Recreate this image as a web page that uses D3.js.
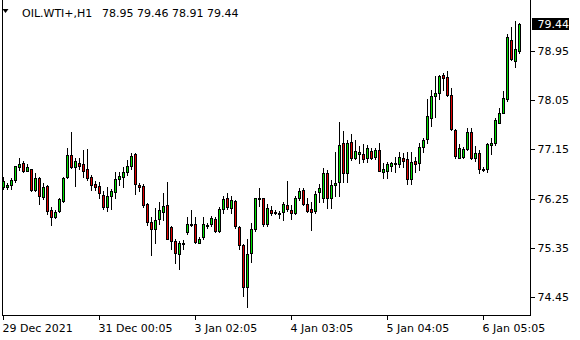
<!DOCTYPE html>
<html>
<head>
<meta charset="utf-8">
<script src="https://cdn.jsdelivr.net/npm/d3@7"></script>
<style>
  body { margin: 0; background: #fff; }
  svg { display: block; font-family: "DejaVu Sans", sans-serif; font-size: 11px; }
</style>
</head>
<body>
<div id="chart"></div>
<script>
// OIL.WTI+ H1 bars, 29 Dec 2021 .. 6 Jan 2022
const opens = [
  76.46, 76.46, 76.50, 76.59, 76.82, 76.90, 76.76, 76.79, 76.41, 76.63,
  76.28, 76.48, 76.05, 75.92, 76.03, 76.21, 76.64, 77.05, 76.83, 76.91,
  76.88, 76.79, 76.64, 76.52, 76.48, 76.32, 76.10, 76.30, 76.37, 76.61,
  76.64, 76.74, 76.85, 77.06, 76.50, 76.48, 76.15, 75.82, 75.69, 75.87,
  76.01, 76.13, 75.73, 75.48, 75.23, 75.44, 75.63, 75.78, 75.79, 75.44,
  75.54, 75.76, 75.78, 75.87, 75.65, 76.06, 76.26, 76.07, 76.21, 75.73,
  75.40, 74.63, 75.25, 75.69, 76.27, 76.26, 75.78, 76.05, 76.01, 75.98,
  76.01, 76.13, 76.05, 75.99, 76.27, 76.41, 76.16, 76.06, 76.02, 76.37,
  76.26, 76.72, 76.26, 76.50, 76.55, 77.27, 76.71, 77.29, 77.00, 77.07,
  77.06, 77.00, 77.12, 77.02, 77.14, 76.74, 76.76, 76.85, 76.90, 76.89,
  76.99, 76.97, 76.60, 76.94, 76.90, 77.19, 77.34, 77.72, 78.13, 78.18,
  78.51, 78.48, 78.14, 77.51, 77.00, 77.02, 77.15, 77.46, 76.99, 77.08,
  76.79, 76.79, 77.23, 77.26, 77.64, 77.82, 78.07, 79.16, 78.77, 78.95
];
const highs = [
  76.64, 76.54, 76.62, 76.85, 76.99, 76.94, 76.88, 76.80, 76.71, 76.65,
  76.53, 76.50, 76.10, 76.04, 76.26, 76.65, 77.18, 77.46, 76.99, 77.00,
  77.14, 77.15, 76.68, 76.57, 76.55, 76.39, 76.46, 76.43, 76.73, 76.73,
  76.83, 76.96, 77.09, 77.08, 76.54, 76.52, 76.17, 75.91, 76.08, 76.18,
  76.36, 76.55, 75.75, 75.52, 75.48, 75.49, 75.92, 76.05, 75.92, 75.55,
  75.92, 75.80, 75.93, 75.92, 76.09, 76.30, 76.36, 76.30, 76.23, 75.75,
  75.42, 75.52, 75.80, 76.27, 76.44, 76.27, 76.15, 76.12, 76.04, 76.02,
  76.19, 76.57, 76.13, 76.29, 76.44, 76.45, 76.27, 76.19, 76.39, 76.52,
  76.81, 76.77, 76.59, 77.10, 77.66, 77.49, 77.32, 77.43, 77.32, 77.21,
  77.24, 77.23, 77.17, 77.17, 77.26, 76.90, 76.92, 76.92, 77.02, 77.10,
  77.08, 77.11, 77.10, 77.02, 77.26, 77.36, 78.07, 78.24, 78.49, 78.51,
  78.55, 78.58, 78.28, 77.52, 77.24, 77.20, 77.55, 77.54, 77.22, 77.13,
  76.83, 77.26, 77.35, 77.72, 77.90, 78.21, 79.26, 79.39, 79.50, 79.46
];
const lows = [
  76.42, 76.42, 76.43, 76.55, 76.77, 76.74, 76.75, 76.39, 76.39, 76.16,
  76.24, 75.96, 75.77, 75.89, 76.00, 76.19, 76.62, 76.81, 76.48, 76.80,
  76.65, 76.59, 76.41, 76.41, 76.27, 76.06, 76.02, 76.06, 76.27, 76.50,
  76.47, 76.68, 76.80, 76.33, 76.39, 76.10, 75.77, 75.21, 75.43, 75.79,
  75.86, 75.51, 75.33, 75.07, 74.96, 75.33, 75.60, 75.75, 75.44, 75.43,
  75.52, 75.71, 75.74, 75.63, 75.63, 75.98, 76.06, 75.98, 75.72, 75.32,
  74.46, 74.27, 75.09, 75.66, 76.12, 75.74, 75.75, 75.95, 75.96, 75.89,
  75.86, 76.02, 75.88, 75.97, 76.23, 76.13, 76.01, 75.68, 75.98, 76.19,
  76.18, 76.07, 76.07, 76.29, 76.30, 76.56, 76.56, 76.96, 76.97, 76.90,
  76.92, 76.92, 76.97, 76.97, 76.75, 76.63, 76.62, 76.75, 76.74, 76.83,
  76.83, 76.52, 76.52, 76.74, 76.77, 77.11, 77.27, 77.57, 77.75, 78.07,
  78.24, 78.13, 77.51, 77.00, 77.00, 77.00, 77.14, 76.97, 76.93, 76.72,
  76.75, 76.73, 77.07, 77.23, 77.63, 77.81, 78.04, 78.79, 78.66, 78.91
];
const closes = [
  76.57, 76.50, 76.59, 76.84, 76.88, 76.76, 76.83, 76.41, 76.63, 76.30,
  76.47, 76.03, 75.92, 76.00, 76.24, 76.63, 77.05, 76.83, 76.94, 76.85,
  76.76, 76.62, 76.50, 76.47, 76.35, 76.09, 76.30, 76.38, 76.61, 76.66,
  76.74, 76.85, 77.03, 76.51, 76.46, 76.13, 75.82, 75.69, 75.86, 76.04,
  76.12, 75.52, 75.48, 75.25, 75.44, 75.44, 75.79, 75.76, 75.46, 75.52,
  75.79, 75.75, 75.89, 75.65, 76.06, 76.24, 76.09, 76.23, 75.74, 75.40,
  74.64, 75.23, 75.69, 76.26, 76.24, 75.78, 76.07, 75.98, 75.99, 75.97,
  76.16, 76.06, 75.98, 76.26, 76.39, 76.15, 76.03, 76.01, 76.33, 76.44,
  76.72, 76.26, 76.50, 76.53, 77.23, 76.71, 77.27, 77.00, 77.12, 77.10,
  76.97, 77.17, 77.00, 77.14, 76.76, 76.79, 76.88, 76.91, 76.91, 77.02,
  76.93, 76.60, 76.92, 76.88, 77.20, 77.32, 77.76, 78.13, 78.19, 78.49,
  78.46, 78.14, 77.52, 77.03, 77.17, 77.16, 77.46, 77.00, 77.08, 76.79,
  76.80, 77.24, 77.26, 77.69, 77.81, 78.09, 79.20, 78.80, 78.98, 79.44
];

const priceTicks = [78.95, 78.05, 77.15, 76.25, 75.35, 74.45];
const timeTickBars = [0, 24, 48, 72, 96, 120];
const timeLabels = ["29 Dec 2021", "31 Dec 00:05", "3 Jan 02:05", "4 Jan 03:05", "5 Jan 04:05", "6 Jan 05:05"];
const symbol = "OIL.WTI+,H1";
const lastPrice = 79.44;

const width = 580, height = 340;
const plotLeft = 2.5, plotRight = 530.5, plotBottom = 315.5;
const upColor = "#00e000", downColor = "#e00000";

const bars = opens.map((o, i) => ({ i, o, h: highs[i], l: lows[i], c: closes[i] }));

const svg = d3.select("#chart").append("svg")
    .attr("width", width)
    .attr("height", height);

svg.append("rect").attr("width", width).attr("height", height).attr("fill", "#fff");

const x = d3.scaleLinear()
    .domain([0, bars.length - 1])
    .range([3.5, 3.5 + 4 * (bars.length - 1)]);

const y = d3.scaleLinear()
    .domain([74.45, 78.95])
    .range([297, 51]);

const py = v => Math.round(y(v)) + 0.5;

// candles
const candle = svg.append("g").selectAll("g")
  .data(bars)
  .join("g");

candle.append("line")
    .attr("x1", d => x(d.i))
    .attr("x2", d => x(d.i))
    .attr("y1", d => Math.round(y(d.h)))
    .attr("y2", d => Math.round(y(d.l)) + 1)
    .attr("stroke", "#000")
    .attr("stroke-width", 1);

candle.append("rect")
    .attr("x", d => x(d.i) - 1)
    .attr("width", 2)
    .attr("y", d => Math.min(py(d.o), py(d.c)))
    .attr("height", d => Math.max(Math.abs(py(d.o) - py(d.c)), 1))
    .attr("fill", d => d.c >= d.o ? upColor : downColor)
    .attr("stroke", "#000")
    .attr("stroke-width", 1)
    .attr("shape-rendering", "crispEdges");

// frame
const frame = svg.append("g").attr("stroke", "#000").attr("shape-rendering", "crispEdges");
frame.append("line").attr("x1", plotLeft).attr("x2", plotLeft).attr("y1", 0).attr("y2", plotBottom);
frame.append("line").attr("x1", plotRight).attr("x2", plotRight).attr("y1", 0).attr("y2", plotBottom);
frame.append("line").attr("x1", plotLeft).attr("x2", plotRight).attr("y1", plotBottom).attr("y2", plotBottom);

// price axis
const yAxis = svg.append("g")
    .attr("transform", `translate(${plotRight},0)`)
    .call(d3.axisRight(y).tickValues(priceTicks).tickSize(4).tickFormat(d3.format(".2f")));
yAxis.select(".domain").remove();
yAxis.selectAll("line").attr("stroke", "#000").attr("shape-rendering", "crispEdges");
yAxis.selectAll("text").attr("x", 7).attr("fill", "#000")
    .style("font-family", "DejaVu Sans").style("font-size", "11px");

// current price marker
const ly = y(lastPrice);
svg.append("rect")
    .attr("x", 532).attr("y", Math.round(ly) - 6)
    .attr("width", 37).attr("height", 12)
    .attr("fill", "#000");
svg.append("text")
    .attr("x", 537.5).attr("y", ly).attr("dy", "0.35em")
    .attr("fill", "#fff")
    .text(d3.format(".2f")(lastPrice));

// time axis
const xAxis = svg.append("g")
    .attr("transform", `translate(0,${plotBottom})`)
    .call(d3.axisBottom(x).tickValues(timeTickBars).tickSize(4).tickFormat((d, i) => timeLabels[i]));
xAxis.select(".domain").remove();
xAxis.selectAll("line").attr("stroke", "#000").attr("shape-rendering", "crispEdges")
    .attr("transform", "translate(-0.5,0)");
xAxis.selectAll("text")
    .attr("text-anchor", "start")
    .attr("x", -1.5)
    .attr("y", 16.5)
    .attr("dy", null)
    .attr("fill", "#000")
    .style("font-family", "DejaVu Sans").style("font-size", "11px");

// header
svg.append("path").attr("d", "M2.5,9 L8.5,9 L5.5,13 Z").attr("fill", "#000");
svg.append("text").attr("x", 22).attr("y", 16.5).attr("fill", "#000").text(symbol);
svg.append("text").attr("x", 102).attr("y", 16.5).attr("fill", "#000")
    .text([opens, highs, lows, closes].map(a => a[a.length - 1].toFixed(2)).join(" "));
</script>
</body>
</html>
